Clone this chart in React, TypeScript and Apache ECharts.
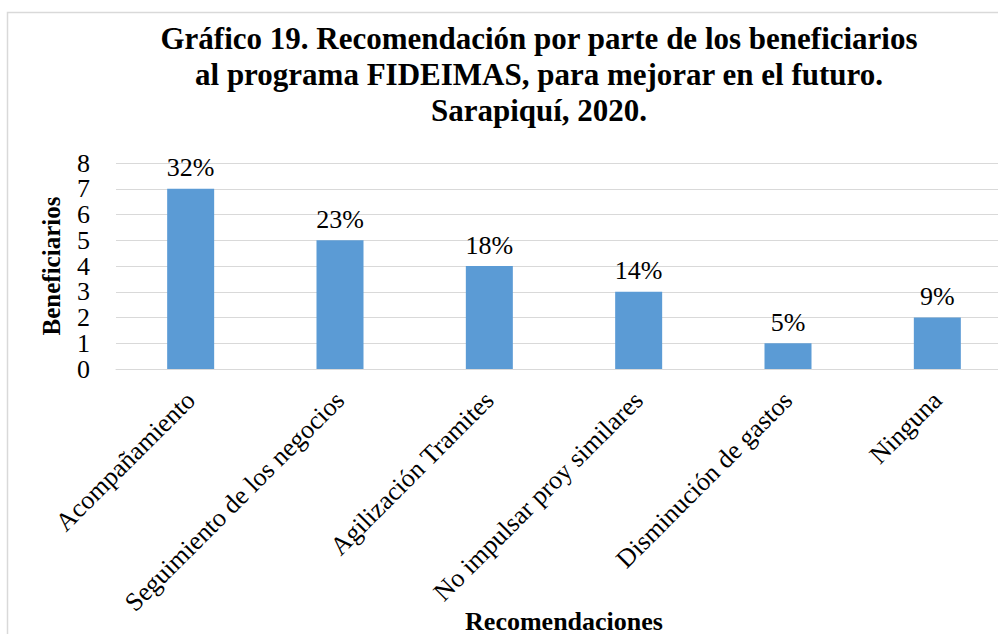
import React, { useEffect, useRef } from "react";
import * as echarts from "echarts";

const categories = [
  "Acompañamiento",
  "Seguimiento de los negocios",
  "Agilización Tramites",
  "No impulsar proy similares",
  "Disminución de gastos",
  "Ninguna",
];
const beneficiarios = [7, 5, 4, 3, 1, 2];
const percentLabels = ["32%", "23%", "18%", "14%", "5%", "9%"];
const yMin = 0;
const yMax = 8;
const yInterval = 1;
const titleLines = [
  "Gráfico 19. Recomendación por parte de los beneficiarios",
  "al programa FIDEIMAS, para mejorar en el futuro.",
  "Sarapiquí, 2020.",
];
const yAxisName = "Beneficiarios";
const xAxisName = "Recomendaciones";

const FONT = "Liberation Serif";

const yLabelStyle = {
  fontSize: 26,
  color: "#000",
  fontFamily: FONT,
  margin: 26,
};

export default function App() {
  const ref = useRef<HTMLDivElement>(null);
  useEffect(() => {
    if (!ref.current) return;
    const chart = echarts.init(ref.current, undefined, { renderer: "svg" });
    chart.setOption({
      animation: false,
      backgroundColor: "#ffffff",
      textStyle: { fontFamily: FONT },
      graphic: [
        {
          type: "rect",
          z: -10,
          shape: { x: 7.5, y: 12.5, width: 1200, height: 800 },
          style: { fill: "none", stroke: "#d9d9d9", lineWidth: 1.5 },
        },
        {
          type: "text",
          x: 539,
          y: 20,
          style: {
            text: titleLines.join("\n"),
            textAlign: "center",
            textVerticalAlign: "top",
            fontFamily: FONT,
            fontSize: 31,
            fontWeight: "bold",
            lineHeight: 36,
            fill: "#000",
          },
        },
        {
          type: "text",
          x: 564,
          y: 621,
          style: {
            text: xAxisName,
            textAlign: "center",
            textVerticalAlign: "middle",
            fontFamily: FONT,
            fontSize: 26,
            fontWeight: "bold",
            fill: "#000",
          },
        },
      ],
      grid: {
        left: 116,
        top: 163,
        width: 896,
        height: 206,
        containLabel: false,
        outerBoundsMode: "none",
      },
      xAxis: {
        type: "category",
        data: categories,
        axisLine: { show: true, lineStyle: { color: "#d9d9d9", width: 1 } },
        axisTick: { show: false },
        axisLabel: {
          interval: 0,
          rotate: 45,
          fontSize: 26,
          color: "#000",
          fontFamily: FONT,
          margin: 27,
        },
      },
      yAxis: [
        {
          type: "value",
          position: "left",
          min: yMin,
          max: yMax,
          interval: yInterval,
          axisLine: { show: false },
          axisTick: { show: false },
          splitLine: { lineStyle: { color: "#d9d9d9", width: 1 } },
          axisLabel: {
            ...yLabelStyle,
            showMinLabel: true,
            showMaxLabel: true,
            formatter: (v: number) => (v % 2 === 0 ? String(v) : ""),
          },
          name: yAxisName,
          nameLocation: "middle",
          nameGap: 52,
          nameRotate: 90,
          nameTextStyle: {
            fontSize: 25,
            fontWeight: "bold",
            color: "#000",
            fontFamily: FONT,
          },
        },
        {
          type: "value",
          position: "left",
          offset: 0,
          min: yMin,
          max: yMax,
          interval: yInterval,
          axisLine: { show: false },
          axisTick: { show: false },
          splitLine: { show: false },
          axisLabel: {
            ...yLabelStyle,
            showMinLabel: false,
            showMaxLabel: false,
            formatter: (v: number) => (v % 2 === 1 ? String(v) : ""),
          },
        },
      ],
      series: [
        {
          type: "bar",
          data: beneficiarios,
          barWidth: 47,
          itemStyle: { color: "#5B9BD5" },
          label: {
            show: true,
            position: "top",
            distance: 8,
            fontSize: 26,
            color: "#000",
            fontFamily: FONT,
            formatter: (p: any) => percentLabels[p.dataIndex],
          },
        },
      ],
    });
    return () => chart.dispose();
  }, []);
  return (
    <div
      ref={ref}
      style={{ position: "absolute", left: 0, top: 0, width: 998, height: 634 }}
    />
  );
}
